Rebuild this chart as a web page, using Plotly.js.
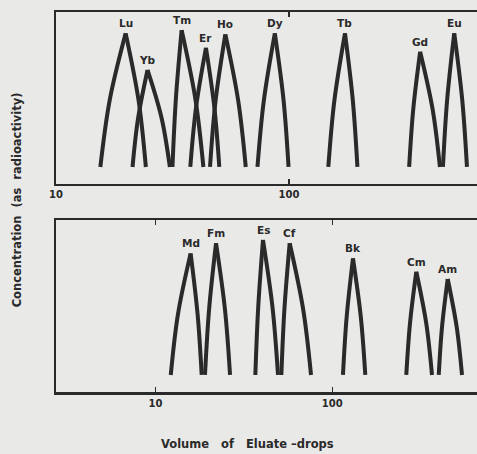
<!DOCTYPE html>
<html>
<head>
<meta charset="utf-8">
<script src="https://cdn.plot.ly/plotly-3.0.1.min.js"></script>
<style>
  html, body { margin: 0; padding: 0; background: #e9e9e7; }
  #chart { width: 477px; height: 454px; }
</style>
</head>
<body>
<div id="chart"></div>
<script>
// ---- Data (eluate drops, log scale; concentration in arbitrary units) ----
// Top panel: lanthanides
const lnNames  = ['Lu', 'Yb', 'Tm', 'Er', 'Ho', 'Dy', 'Tb', 'Gd', 'Eu'];
const lnFootL  = [15.5, 21.3, 31.6, 37.7, 45.8, 73.2, 147.4, 327.6, 457.4];
const lnMidL   = [17.0, 22.5, 32.7, 39.9, 48.4, 78.0, 156.6, 341.2, 476.8];
const lnApex   = [19.9, 24.7, 34.6, 44.0, 53.3, 86.9, 173.8, 365.2, 511.5];
const lnMidR   = [22.6, 28.4, 39.6, 47.8, 60.5, 94.7, 187.7, 413.0, 553.6];
const lnFootR  = [24.3, 30.8, 42.9, 50.2, 65.2, 99.5, 196.5, 444.0, 580.0];
const lnPeak   = [87.6, 66.3, 89.5, 79.2, 87.0, 87.6, 87.6, 76.9, 87.6];
const lnMidY   = [48.8, 38.2, 49.8, 44.6, 48.5, 48.8, 48.8, 43.5, 48.8];
const lnFootY  = [9.9, 9.9, 9.9, 9.9, 9.9, 9.9, 9.9, 9.9, 9.9];

// Bottom panel: actinides
const acNames  = ['Md', 'Fm', 'Es', 'Cf', 'Bk', 'Cm', 'Am'];
const acFootL  = [12.2, 19.05, 36.7, 51.5, 114.9, 262.1, 399.9];
const acMidL   = [13.4, 20.1, 38.1, 53.6, 120.6, 275.1, 417.4];
const acApex   = [15.8, 22.0, 40.55, 57.4, 130.9, 298.6, 449.5];
const acMidR   = [17.3, 24.7, 45.9, 68.4, 144.9, 339.8, 505.3];
const acFootR  = [18.25, 26.4, 49.3, 75.8, 153.7, 366.4, 541.5];
const acPeak   = [80.6, 86.5, 88.4, 86.5, 77.7, 69.9, 65.7];
const acMidY   = [45.3, 48.2, 49.2, 48.2, 43.8, 40.0, 37.8];
const acFootY  = [9.9, 9.9, 9.9, 9.9, 9.9, 9.9, 9.9];

const tickVals  = [10, 100];
const tickText  = ['10', '100'];

// ---- Build traces ----
const INK = '#2a2a2a';
const FAMILY = '"DejaVu Sans", Lato, sans-serif';
const traces = [];
const annotations = [];
const labelFont = { family: FAMILY, size: 10.5, color: INK, weight: 'bold' };

function addPanel(names, fl, ml, ap, mr, fr, pk, my, fy, xa, ya) {
  names.forEach((n, i) => {
    traces.push({
      type: 'scatter', mode: 'lines', name: n, xaxis: xa, yaxis: ya,
      x: [fl[i], ml[i], ap[i], null, ap[i], mr[i], fr[i]],
      y: [fy[i], my[i], pk[i], null, pk[i], my[i], fy[i]],
      line: { color: INK, width: 4, shape: 'spline', smoothing: 1 },
      connectgaps: false, hoverinfo: 'name', showlegend: false
    });
    annotations.push({
      xref: xa, yref: ya, x: Math.log10(ap[i]), y: pk[i], text: n,
      showarrow: false, yanchor: 'bottom', yshift: 2, font: labelFont
    });
  });
}
addPanel(lnNames, lnFootL, lnMidL, lnApex, lnMidR, lnFootR, lnPeak, lnMidY, lnFootY, 'x', 'y');
addPanel(acNames, acFootL, acMidL, acApex, acMidR, acFootR, acPeak, acMidY, acFootY, 'x2', 'y2');

const tickFont = { family: FAMILY, size: 10, color: INK, weight: 'bold' };
const xCommon = {
  type: 'log', tickvals: tickVals, ticktext: tickText, ticks: 'inside', ticklen: 5,
  tickwidth: 1.5, tickcolor: INK, showline: true, linecolor: INK, linewidth: 2.5,
  mirror: 'allticks', showgrid: false, zeroline: false, tickfont: tickFont, fixedrange: true
};
const yCommon = {
  range: [0, 100], showticklabels: false, ticks: '', showgrid: false, zeroline: false,
  showline: true, linecolor: INK, linewidth: 2.5, mirror: false, fixedrange: true
};

annotations.push({
  xref: 'paper', yref: 'paper', x: -0.092, y: 0.505, text: 'Concentration\u00a0\u00a0(as\u00a0\u00a0radioactivity)',
  textangle: -90, showarrow: false, xanchor: 'center', yanchor: 'middle',
  font: { family: FAMILY, size: 11.5, color: INK, weight: 'bold' }
});
annotations.push({
  xref: 'paper', yref: 'paper', x: 0.454, y: -0.137, text: 'Volume\u00a0\u00a0\u00a0of\u00a0\u00a0\u00a0Eluate\u00a0\u2013drops',
  showarrow: false, xanchor: 'center', yanchor: 'middle',
  font: { family: FAMILY, size: 11.5, color: INK, weight: 'bold' }
});

const layout = {
  width: 477, height: 454,
  margin: { l: 56, r: 0, t: 12, b: 62 },
  paper_bgcolor: '#e9e9e7', plot_bgcolor: '#e9e9e7',
  showlegend: false,
  xaxis:  Object.assign({}, xCommon, { anchor: 'y',  range: [1.0, 2.8065], domain: [0, 1] }),
  yaxis:  Object.assign({}, yCommon, { anchor: 'x',  domain: [0.5474, 1] }),
  xaxis2: Object.assign({}, xCommon, { anchor: 'y2', range: [0.4372, 2.8184], domain: [0, 1] }),
  yaxis2: Object.assign({}, yCommon, { anchor: 'x2', domain: [0, 0.4526] }),
  annotations: annotations
};

Plotly.newPlot('chart', traces, layout, { displayModeBar: false, staticPlot: true });
</script>
</body>
</html>
